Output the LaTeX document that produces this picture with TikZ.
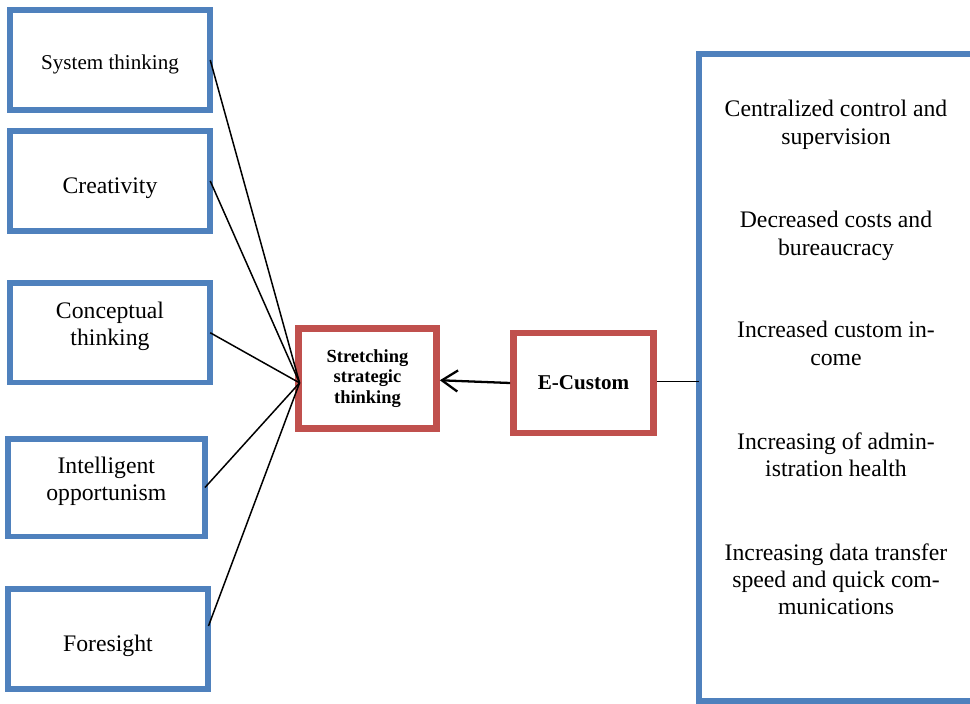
\documentclass[tikz,border=0pt]{standalone}
\usepackage{fontspec}
\setmainfont{Liberation Serif}
\usetikzlibrary{arrows.meta, positioning, calc}
\definecolor{boxblue}{RGB}{79, 129, 189}
\definecolor{boxred}{RGB}{192, 80, 77}

\tikzset{
  skill/.style={draw=boxblue, line width=3.4pt, outer sep=0pt, minimum width=4.01cm, minimum height=2cm, align=center, inner sep=2pt, text height=14.5pt, text depth=0pt, font=\fontsize{13.5}{15.5}\selectfont},
  corebox/.style={draw=boxred, line width=3.8pt, minimum width=2.8cm, minimum height=2cm, align=center, inner sep=2pt},
  gain/.style={anchor=north, align=center, inner sep=0pt, font=\fontsize{13.5}{15.5}\selectfont},
  link/.style={line width=0.85pt},
}

\begin{document}
\begin{tikzpicture}[x=0.02cm, y=-0.02cm]
  \useasboundingbox (0,0) rectangle (970,703);
  \clip (0,0) rectangle (970,703);

  % Thinking skills
  \node[skill, text height=11.2pt, font=\fontsize{12}{14}\selectfont] (sys) at (110,60) {System thinking};
  \node[skill, minimum height=1.99cm] (crea) at (110,181) {Creativity};
  \node[skill, minimum height=1.99cm] (conc) at (110,332.75) {Conceptual\\thinking};
  \node[skill, minimum width=3.95cm, minimum height=1.96cm] (opp) at (106.25,487.5) {Intelligent\\opportunism};
  \node[skill, minimum width=4.02cm, minimum height=1.99cm] (fore) at (108,639) {Foresight};

  % Core boxes
  \node[corebox, minimum width=2.76cm, font=\bfseries\fontsize{10.5}{11.5}\selectfont] (stretch) at (367.5,378.5) {Stretching\\strategic\\thinking};
  \node[corebox, font=\bfseries\fontsize{12}{14}\selectfont] (ecus) at (583.5,383) {E-Custom};

  % Benefits panel (right side runs off the page)
  \node[draw=boxblue, line width=3.4pt, outer sep=0pt, minimum width=7.23cm, minimum height=12.95cm, inner sep=0pt] (panel) at (879.25,377.25) {};
  \node[gain] (g1) at (836,100) {Centralized control and\\supervision};
  \node[gain] (g2) at (836,211) {Decreased costs and\\bureaucracy};
  \node[gain] (g3) at (836,321) {Increased custom in-\\come};
  \node[gain] (g4) at (836,432) {Increasing of admin-\\istration health};
  \node[gain] (g5) at (836,543) {Increasing data transfer\\speed and quick com-\\munications};

  % Connectors
  \coordinate (hub) at ([xshift=2.5pt, yshift=-2.5pt]stretch.west);
  \draw[link] (sys.east) -- (hub);
  \draw[link] (crea.east) -- (hub);
  \draw[link] (conc.east) -- (hub);
  \draw[link] (opp.east) -- (hub);
  \draw[link] ([yshift=7.4pt]fore.east) -- (hub);
  \draw[line width=1.3pt, -{Straight Barb[length=9pt, width=12pt, line width=1.3pt]}] (ecus.west) -- ([yshift=-1pt]stretch.east);
  \coordinate (tap) at ([yshift=1pt]ecus.east);
  \draw[link] (tap) -- (tap -| panel.west);
\end{tikzpicture}
\end{document}
